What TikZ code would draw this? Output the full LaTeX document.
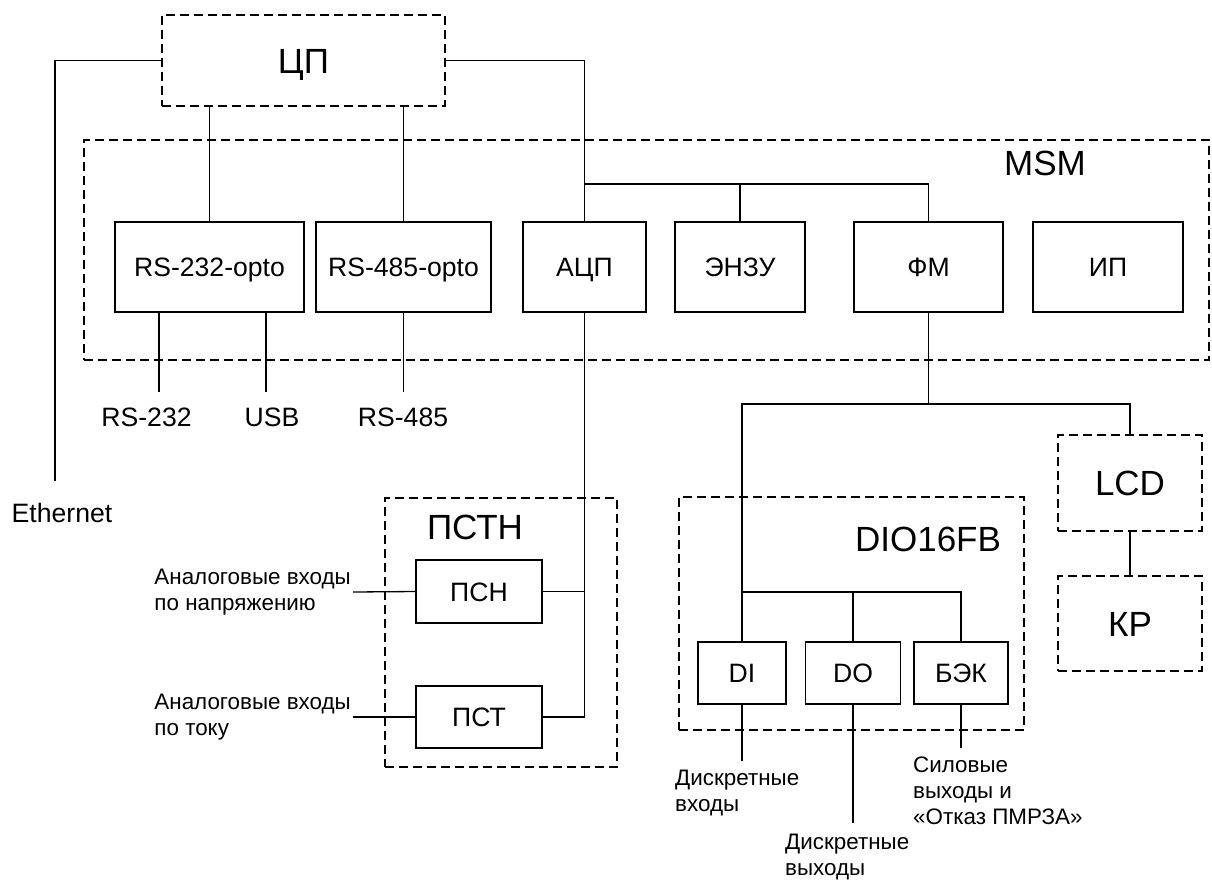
\documentclass[tikz,border=0pt]{standalone}
\usepackage{fontspec}
\setmainfont{Liberation Sans}
\begin{document}
\begin{tikzpicture}[x=1pt,y=-1pt,
  wire/.style={line width=1.3pt},
  sbox/.style={draw, line width=1.3pt, inner sep=0pt, text height=19pt, text depth=0pt, font=\fontsize{26.6}{31}\selectfont},
  dbox/.style={draw, line width=1.2pt, dash pattern=on 9pt off 5pt, inner sep=0pt, text height=25pt, text depth=0pt, font=\fontsize{35}{42}\selectfont},
  big/.style={inner sep=0pt, font=\fontsize{35}{42}\selectfont},
  mid/.style={inner sep=0pt, font=\fontsize{26.6}{31}\selectfont},
  small/.style={inner sep=0pt, align=left, font=\fontsize{22.4}{26}\selectfont}]
\useasboundingbox (0,0) rectangle (1212,879);

% containers
\node[dbox, minimum width=283pt, minimum height=91pt] (cp) at (303.5,60.5) {ЦП};
\node[dbox, minimum width=1125pt, minimum height=220pt] (msm) at (646.5,250) {};
\node[big] (msmlbl) at (1045,163) {MSM};
\node[dbox, minimum width=232pt, minimum height=269pt] (pstn) at (501,632.5) {};
\node[big] (pstnlbl) at (475,527.5) {ПСТН};
\node[dbox, minimum width=345pt, minimum height=233pt] (dio) at (851.5,613.5) {};
\node[big] (diolbl) at (928,539) {DIO16FB};
\node[dbox, minimum width=144pt, minimum height=96pt] (lcd) at (1130,483) {LCD};
\node[dbox, minimum width=144pt, minimum height=95pt] (kp) at (1130,623.5) {КР};

% MSM modules
\node[sbox, minimum width=189pt, minimum height=90pt] (rs232) at (209.5,267) {RS-232-opto};
\node[sbox, minimum width=175pt, minimum height=90pt] (rs485) at (403.5,267) {RS-485-opto};
\node[sbox, minimum width=123pt, minimum height=90pt] (adc) at (584.5,267) {АЦП};
\node[sbox, minimum width=130pt, minimum height=90pt] (enzu) at (740,267) {ЭНЗУ};
\node[sbox, minimum width=149pt, minimum height=90pt] (fm) at (928.5,267) {ФМ};
\node[sbox, minimum width=150pt, minimum height=90pt] (ip) at (1108,267) {ИП};

% PSTN modules
\node[sbox, minimum width=126pt, minimum height=63pt] (psn) at (479,591.5) {ПСН};
\node[sbox, minimum width=126pt, minimum height=62pt] (pst) at (479,717) {ПСТ};

% DIO modules
\node[sbox, minimum width=88pt, minimum height=62pt] (di) at (742,673) {DI};
\node[sbox, minimum width=95pt, minimum height=62pt] (do) at (853,673) {DO};
\node[sbox, minimum width=94pt, minimum height=62pt] (bek) at (961,673) {БЭК};

% free ends
\coordinate (ethend) at (55,481);
\coordinate (bus1) at (0,184);
\coordinate (bus2) at (0,404);
\coordinate (bus3) at (0,592);
\coordinate (c232) at (159,392);
\coordinate (cusb) at (266,392);
\coordinate (c485) at (403.5,392);
\coordinate (cdi) at (742,761);
\coordinate (cdo) at (853,823);
\coordinate (cbek) at (961,748);

% labels
\node[mid, anchor=base] (l232) at (146.5,426) {RS-232};
\node[mid, anchor=base] (lusb) at (272,426) {USB};
\node[mid, anchor=base] (l485) at (403,426) {RS-485};
\node[mid, anchor=base] (leth) at (62,522) {Ethernet};
\node[small, anchor=east] (ain1) at (351,592) {Аналоговые входы\\по напряжению};
\node[small, anchor=east] (ain2) at (351,717) {Аналоговые входы\\по току};
\node[small, anchor=north west] (ldi) at (675,770) {Дискретные\\входы};
\node[small, anchor=north west] (ldo) at (785,834) {Дискретные\\выходы};
\node[small, anchor=north west] (lbek) at (913,757) {Силовые\\выходы и\\«Отказ ПМРЗА»};

% connectors
\draw[wire] (cp.west) -| (ethend);
\draw[wire] (cp.east) -| (adc.north);
\draw[wire] (adc.north |- bus1) -| (fm.north);
\draw[wire] (enzu.north) -- (enzu.north |- bus1);
\draw[wire] (rs232.north) -- (rs232.north |- cp.south);
\draw[wire] (rs485.north) -- (rs485.north |- cp.south);
\draw[wire] (rs232.south -| c232) -- (c232);
\draw[wire] (rs232.south -| cusb) -- (cusb);
\draw[wire] (rs485.south) -- (c485);
\draw[wire] (adc.south) |- (pst.east);
\draw[wire] (psn.east) -- (psn.east -| adc.south);
\draw[wire] (ain1.east) ++(2,0) -- (psn.west);
\draw[wire] (ain2.east) ++(2,0) -- (pst.west);
\draw[wire] (fm.south) -- (fm.south |- bus2);
\draw[wire] (di.north) |- (bus2 -| lcd.north) -- (lcd.north);
\draw[wire] (di.north |- bus3) -| (bek.north);
\draw[wire] (do.north) -- (do.north |- bus3);
\draw[wire] (lcd.south) -- (kp.north);
\draw[wire] (di.south) -- (cdi);
\draw[wire] (do.south) -- (cdo);
\draw[wire] (bek.south) -- (cbek);
\end{tikzpicture}
\end{document}
